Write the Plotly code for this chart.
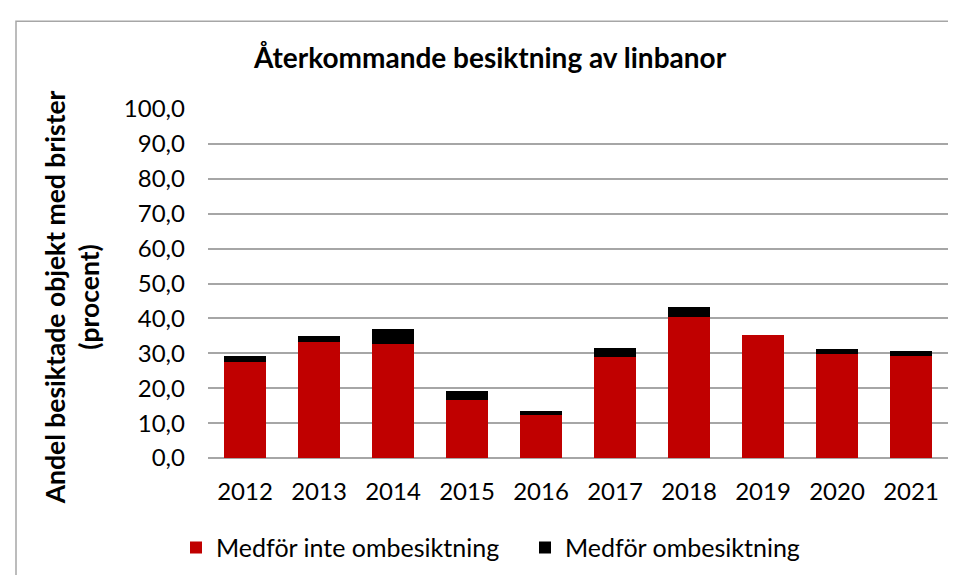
import plotly.graph_objects as go

years = ["2012", "2013", "2014", "2015", "2016", "2017", "2018", "2019", "2020", "2021"]
inte_ombesiktning = [27.5, 33.2, 32.8, 16.6, 12.2, 29.0, 40.3, 35.3, 29.7, 29.1]
ombesiktning = [1.7, 1.9, 4.2, 2.7, 1.4, 2.4, 3.1, 0.0, 1.5, 1.7]
y_ticks = [0, 10, 20, 30, 40, 50, 60, 70, 80, 90, 100]
y_tick_labels = ["0,0", "10,0", "20,0", "30,0", "40,0", "50,0", "60,0", "70,0", "80,0", "90,0", "100,0"]

FONT = "Lato, 'Open Sans', sans-serif"

fig = go.Figure()
fig.add_trace(go.Bar(
    x=years, y=inte_ombesiktning, name="Medför inte ombesiktning",
    marker=dict(color="#C00000", line=dict(width=0)),
))
fig.add_trace(go.Bar(
    x=years, y=ombesiktning, name="Medför ombesiktning",
    marker=dict(color="#000000", line=dict(width=0)),
))

fig.update_layout(
    width=956, height=575,
    barmode="stack", bargap=0.43,
    paper_bgcolor="white", plot_bgcolor="white",
    margin=dict(l=200, r=16, t=101, b=120),
    font=dict(family=FONT, size=24, color="#000000"),
    title=dict(
        text="<b>Återkommande besiktning av linbanor</b>",
        x=482 / 956, xref="container", xanchor="center",
        y=1 - 50 / 575, yref="container", yanchor="middle",
        font=dict(family=FONT, size=28, color="#000000"),
    ),
    xaxis=dict(
        showgrid=False, showline=False, zeroline=False,
        ticks="", ticklabelstandoff=17,
        tickfont=dict(family=FONT, size=24, color="#000000"),
    ),
    yaxis=dict(
        range=[0, 100], tickvals=y_ticks, ticktext=y_tick_labels,
        showgrid=True, gridcolor="#a6a6a6", gridwidth=1.5,
        zeroline=True, zerolinecolor="#a6a6a6", zerolinewidth=1.5,
        showline=False, ticks="", ticklabelstandoff=22,
        tickfont=dict(family=FONT, size=24, color="#000000"),
    ),
    legend=dict(
        orientation="h", traceorder="normal",
        x=(168 - 200) / 740, xanchor="left",
        y=(455 - 546) / 354, yanchor="middle",
        font=dict(family=FONT, size=25, color="#000000"),
        itemwidth=30, entrywidth=304, entrywidthmode="pixels",
        bgcolor="rgba(0,0,0,0)",
    ),
    showlegend=True,
)

fig.add_annotation(
    text="<b>Andel besiktade objekt med brister<br>(procent)</b>",
    xref="paper", yref="paper", x=(64 - 200) / 740, y=(455 - 292) / 354,
    xanchor="center", yanchor="middle", textangle=-90, showarrow=False,
    font=dict(family=FONT, size=26.5, color="#000000"),
)

# outer chart border (extends beyond the window on right and bottom)
fig.add_shape(
    type="rect", xref="paper", yref="paper",
    x0=(8 - 200) / 740, x1=(1000 - 200) / 740,
    y0=(455 - 620) / 354, y1=(455 - 12) / 354,
    line=dict(color="#a6a6a6", width=1.5), fillcolor="rgba(0,0,0,0)", layer="below",
)

fig.write_html("out.html")
